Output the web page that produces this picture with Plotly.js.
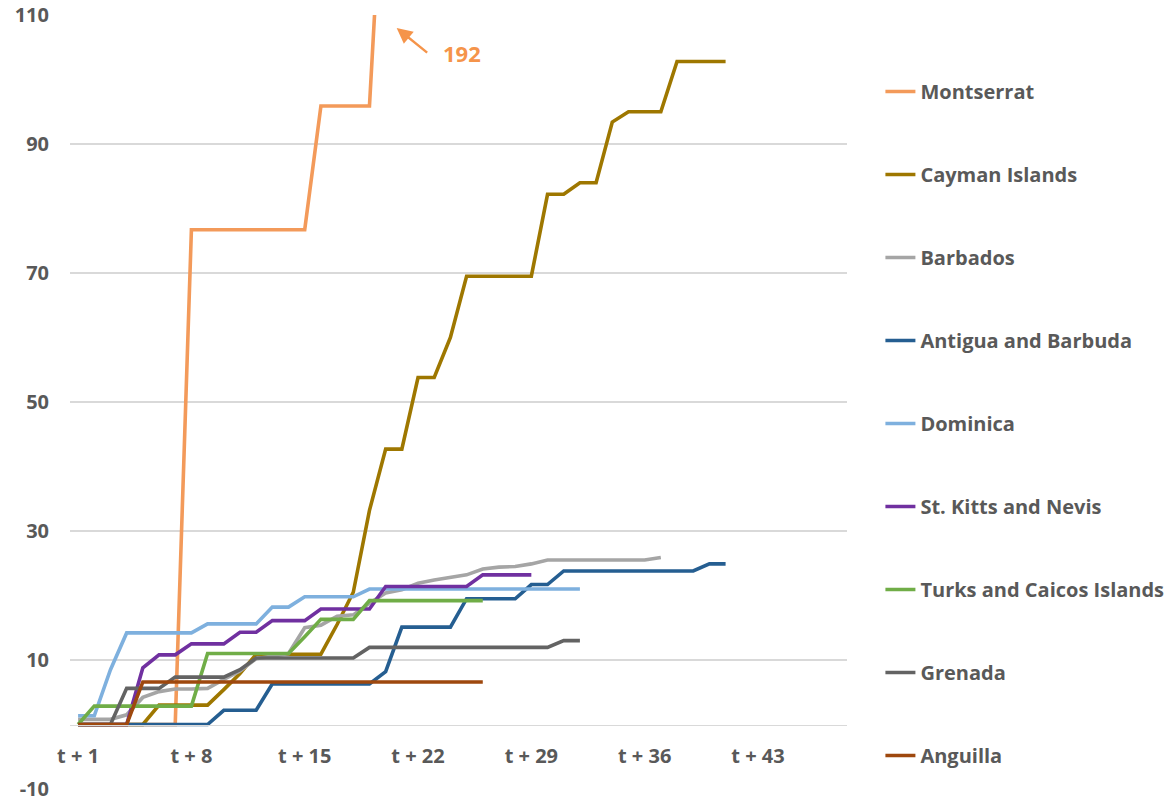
<!DOCTYPE html>
<html>
<head>
<meta charset="utf-8">
<script src="https://cdn.plot.ly/plotly-3.0.1.min.js"></script>
<style>
  html, body { margin: 0; padding: 0; background: #ffffff; }
  #chart { width: 1168px; height: 802px; }
</style>
</head>
<body>
<div id="chart"></div>
<script>
// Categories (t + 1 ... t + 48)
const categories = [
  't + 1','t + 2','t + 3','t + 4','t + 5','t + 6','t + 7','t + 8','t + 9','t + 10',
  't + 11','t + 12','t + 13','t + 14','t + 15','t + 16','t + 17','t + 18','t + 19','t + 20',
  't + 21','t + 22','t + 23','t + 24','t + 25','t + 26','t + 27','t + 28','t + 29','t + 30',
  't + 31','t + 32','t + 33','t + 34','t + 35','t + 36','t + 37','t + 38','t + 39','t + 40',
  't + 41','t + 42','t + 43','t + 44','t + 45','t + 46','t + 47','t + 48'
];
const tickLabels = ['t + 1','t + 8','t + 15','t + 22','t + 29','t + 36','t + 43'];
const yTicks = [-10, 10, 30, 50, 70, 90, 110];

const seriesNames = ['Montserrat','Cayman Islands','Barbados','Antigua and Barbuda','Dominica',
  'St. Kitts and Nevis','Turks and Caicos Islands','Grenada','Anguilla'];

const montserrat = [0,0,0,0,0,0,0,76.7,76.7,76.7,76.7,76.7,76.7,76.7,76.7,95.9,95.9,95.9,95.9,141,192];
const cayman = [0,0,0,0,0,3.0,3.0,3.0,3.0,5.4,7.9,10.9,10.9,10.9,10.9,10.9,15.5,20.5,33.2,42.7,42.7,
  53.8,53.8,60.0,69.5,69.5,69.5,69.5,69.5,82.2,82.2,84.0,84.0,93.4,95.0,95.0,95.0,102.8,102.8,102.8,102.8];
const barbados = [0.8,0.8,0.8,1.5,4.2,5.1,5.5,5.5,5.6,7.0,8.3,10.2,10.6,11.0,15.0,15.4,16.8,17.0,18.8,20.4,
  20.9,21.9,22.4,22.8,23.2,24.1,24.4,24.5,24.9,25.5,25.5,25.5,25.5,25.5,25.5,25.5,25.9];
const antigua = [0,0,0,0,0,0,0,0,0,2.2,2.2,2.2,6.3,6.3,6.3,6.3,6.3,6.3,6.3,8.2,15.1,15.1,15.1,15.1,
  19.5,19.5,19.5,19.5,21.7,21.7,23.8,23.8,23.8,23.8,23.8,23.8,23.8,23.8,23.8,24.9,24.9];
const dominica = [1.35,1.35,8.5,14.2,14.2,14.2,14.2,14.2,15.6,15.6,15.6,15.6,18.2,18.2,19.8,19.8,19.8,19.8,
  21.0,21.0,21.0,21.0,21.0,21.0,21.0,21.0,21.0,21.0,21.0,21.0,21.0,21.0];
const stKitts = [0,0,0,0,8.8,10.8,10.8,12.5,12.5,12.5,14.3,14.3,16.1,16.1,16.1,17.9,17.9,17.9,17.9,
  21.4,21.4,21.4,21.4,21.4,21.4,23.2,23.2,23.2,23.2];
const turks = [0,2.85,2.85,2.85,2.85,2.85,2.85,2.85,11.0,11.0,11.0,11.0,11.0,11.0,13.6,16.3,16.3,16.3,
  19.2,19.2,19.2,19.2,19.2,19.2,19.2,19.2];
const grenada = [0,0,0,5.6,5.6,5.6,7.35,7.35,7.35,7.35,8.5,10.3,10.3,10.3,10.3,10.3,10.3,10.3,
  11.95,11.95,11.95,11.95,11.95,11.95,11.95,11.95,11.95,11.95,11.95,11.95,13.0,13.0];
const anguilla = [0,0,0,0,6.6,6.6,6.6,6.6,6.6,6.6,6.6,6.6,6.6,6.6,6.6,6.6,6.6,6.6,6.6,6.6,6.6,6.6,6.6,6.6,6.6,6.6];

const seriesValues = [montserrat, cayman, barbados, antigua, dominica, stKitts, turks, grenada, anguilla];
const seriesColors = ['#F39A5A','#9E7700','#A5A5A5','#255E91','#7EB0DE','#7030A0','#70AD47','#636363','#9E480E'];

const annotationLabel = '192';

const FONT = '"Open Sans", Lato, sans-serif';
const TEXT = '#595959';
const FS = 20;

const traces = seriesNames.map((name, k) => ({
  type: 'scatter',
  mode: 'lines',
  name: name,
  legendgroup: 'g' + k,
  x: categories.slice(0, seriesValues[k].length),
  y: seriesValues[k],
  line: { color: seriesColors[k], width: 3.6 },
  hoverinfo: 'x+y+name'
}));

const layout = {
  width: 1168,
  height: 802,
  margin: { l: 70, r: 321, t: 15, b: 13, autoexpand: false },
  paper_bgcolor: '#ffffff',
  plot_bgcolor: '#ffffff',
  font: { family: FONT, color: TEXT, size: FS, weight: 'bold' },
  showlegend: true,
  xaxis: {
    type: 'category',
    categoryorder: 'array',
    categoryarray: categories,
    range: [-0.5, 47.5],
    anchor: 'free',
    position: 10 / 120,
    showgrid: false,
    zeroline: false,
    showline: true,
    linecolor: '#D9D9D9',
    linewidth: 1.3,
    ticks: '',
    tickmode: 'array',
    tickvals: tickLabels,
    ticktext: tickLabels,
    ticklabelstandoff: 13,
    tickfont: { family: FONT, color: TEXT, size: FS, weight: 'bold' }
  },
  yaxis: {
    range: [-10, 110],
    tickmode: 'array',
    tickvals: yTicks,
    ticktext: yTicks.map(String),
    showgrid: true,
    gridcolor: '#D9D9D9',
    gridwidth: 1.3,
    zeroline: false,
    showline: false,
    ticks: '',
    ticklabelstandoff: 20,
    tickfont: { family: FONT, color: TEXT, size: FS, weight: 'bold' }
  },
  legend: {
    x: 1.043,
    xanchor: 'left',
    y: 0.9264,
    yanchor: 'top',
    maxheight: 780,
    tracegroupgap: 54,
    font: { family: FONT, color: TEXT, size: FS, weight: 'bold' },
    bgcolor: 'rgba(0,0,0,0)'
  },
  annotations: [
    {
      x: 19.68, y: 108.0, xref: 'x', yref: 'y',
      text: '', showarrow: true,
      ax: 32, ay: 26, axref: 'pixel', ayref: 'pixel',
      arrowhead: 2, arrowsize: 1.3, arrowwidth: 2.4, arrowcolor: '#F5944A'
    },
    {
      x: 23.69, y: 104.1, xref: 'x', yref: 'y',
      text: annotationLabel, showarrow: false,
      font: { family: FONT, color: '#F5944A', size: 22, weight: 'bold' }
    }
  ]
};

Plotly.newPlot('chart', traces, layout, { staticPlot: true, displayModeBar: false });
</script>
</body>
</html>
